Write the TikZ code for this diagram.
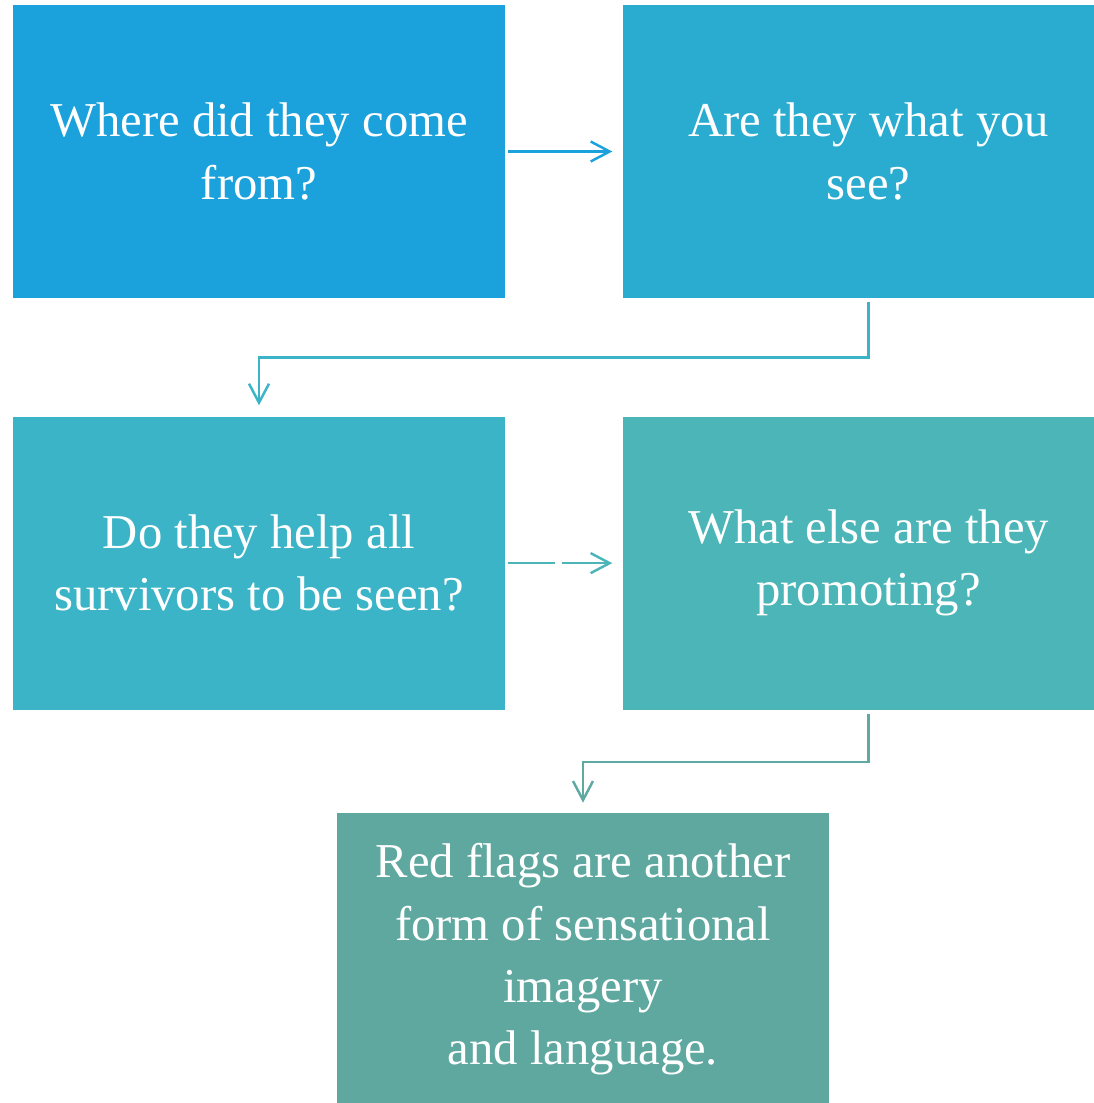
\documentclass[tikz,border=0pt]{standalone}
\usepackage{fontspec}
\setmainfont{Liberation Serif}
\usetikzlibrary{arrows.meta, positioning}
\definecolor{qblue}{RGB}{27,161,219}
\definecolor{qcyan}{RGB}{41,172,208}
\definecolor{qaqua}{RGB}{58,180,198}
\definecolor{qteal}{RGB}{75,181,184}
\definecolor{qsage}{RGB}{94,168,160}
\definecolor{qsageline}{RGB}{94,170,163}

\begin{document}
\begin{tikzpicture}[
      x=0.02cm, y=-0.02cm,
      node distance=2.36cm and 2.34cm,
      qbox/.style={rectangle, draw=none, fill=#1, text=white, align=center,
                  minimum width=9.84cm, minimum height=5.86cm, inner sep=0pt,
                  font=\fontsize{27.7}{35.5}\selectfont},
      arr/.style={-{Straight Barb[length=0.38cm, width=0.4cm]}, line width=1.4pt, draw=#1}
    ]
    \clip (0,0) rectangle (1094,1103);
    \node[qbox=qblue] (origin) at (259,151.5) {Where did they come\\ from?};
    \node[qbox=qcyan, right=of origin] (seen) {Are they what you\\ see?};
    \node[qbox=qaqua, below=of origin] (help) {Do they help all\\ survivors to be seen?};
    \node[qbox=qteal, right=of help] (promo) {What else are they\\ promoting?};
    \node[qbox=qsage] (flags) at (583,959.5) {Red flags are another\\ form of sensational\\ imagery\\ and language.};

    \draw[arr=qblue, shorten <=0.06cm, shorten >=0.2cm] (origin) -- (seen);
    \draw[arr=qaqua, shorten <=0.08cm, shorten >=0.22cm] (seen.south) -- ++(0,59) -| (help.north);
    \draw[arr=qteal, dash pattern=on 0.94cm off 0.14cm, shorten <=0.06cm, shorten >=0.2cm] (help) -- (promo);
    \draw[arr=qsageline, shorten <=0.08cm, shorten >=0.2cm] (promo.south) -- ++(0,52) -| (flags.north);
  \end{tikzpicture}
\end{document}
